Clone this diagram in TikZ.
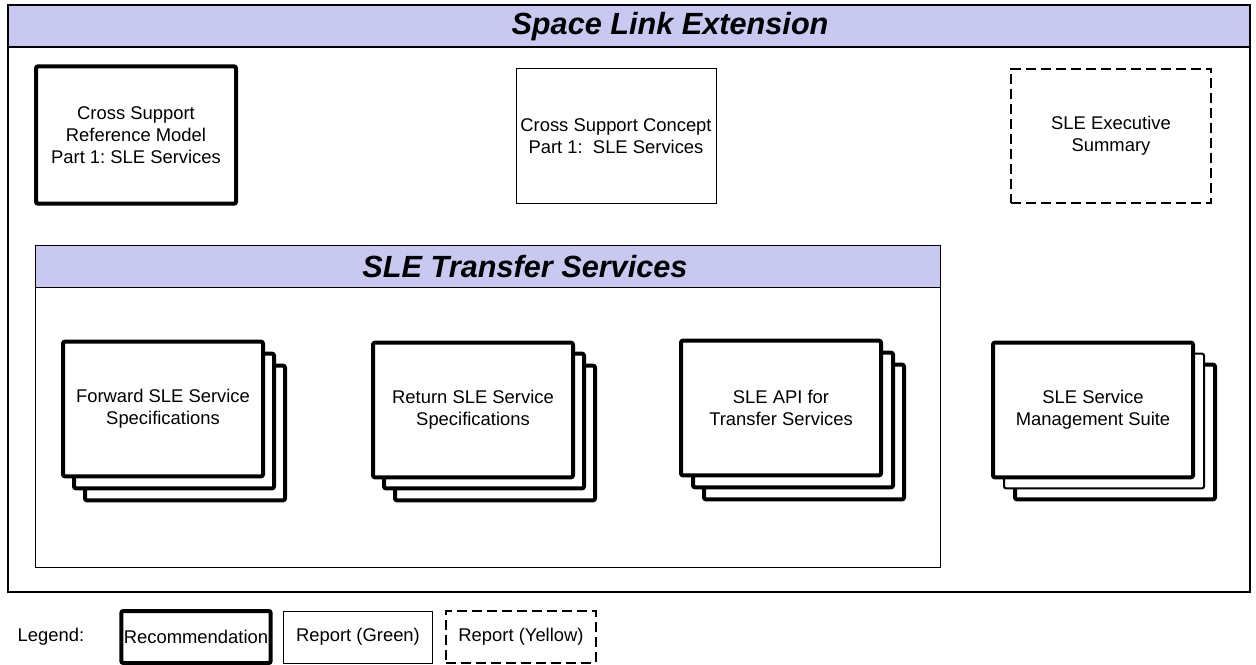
\documentclass[tikz,border=0pt]{standalone}
\usepackage{fontspec}
\setmainfont{Liberation Sans}
\usepackage{tikz}
\frenchspacing

\definecolor{slelavender}{RGB}{200,200,240}
\newcommand{\boxfont}{\fontsize{13.8pt}{16.5pt}\selectfont}
\newcommand{\barfont}{\fontsize{23pt}{27pt}\selectfont\bfseries\itshape}

\tikzset{
  recbox/.style={draw, line width=3pt, rounded corners=1.5pt, fill=white,
    minimum width=150pt, minimum height=101pt, inner sep=0pt,
    align=center, font=\boxfont},
  greenbox/.style={recbox, line width=0.75pt, rounded corners=0pt},
  yellowbox/.style={recbox, line width=1.5pt, rounded corners=0pt,
    dash pattern=on 7.5pt off 3.75pt},
  legendbox/.style={minimum width=112pt, minimum height=39pt},
  bartitle/.style={font=\barfont}
}

\begin{document}
\begin{tikzpicture}[x=0.75pt, y=-0.75pt]
            \useasboundingbox (0,0) rectangle (1256,664);

            % Space Link Extension frame
            \draw[line width=1.1pt] (8,5) rectangle (1250,592);
            \draw[line width=1.1pt, fill=slelavender] (8,5) rectangle (1250,47);
            \node[bartitle] (sle) at (670,27) {Space Link Extension};

            \node[recbox, minimum height=103pt] (csrm) at (136,135) {Cross Support\\Reference Model\\Part 1: SLE Services};
            \node[greenbox] (csc) at (616,136) {Cross Support Concept\\Part 1: \ SLE Services};
            \node[yellowbox] (exec) at (1111,136) {SLE Executive\\Summary};

            % SLE Transfer Services frame
            \draw[line width=0.75pt] (35,245) rectangle (940,567);
            \draw[line width=0.75pt, fill=slelavender] (35,245) rectangle (940,287);
            \node[bartitle] (sts) at (525,267) {SLE Transfer Services};

            \node[recbox] (fwd3) at (185,433) {};
            \node[recbox] (fwd2) at (174,421) {};
            \node[recbox] (fwd) at (163,409) {Forward SLE Service\\Specifications};

            \node[recbox] (ret3) at (495,433) {};
            \node[recbox] (ret2) at (484,421) {};
            \node[recbox] (ret) at (473,410) {Return SLE Service\\Specifications};

            \node[recbox] (api3) at (804,432) {};
            \node[recbox] (api2) at (793,420) {};
            \node[recbox] (api) at (781,408) {SLE API for\\Transfer Services};

            \node[recbox] (mgt3) at (1115,432) {};
            \node[recbox, line width=1.5pt] (mgt2) at (1104,421) {};
            \node[recbox] (mgt) at (1093,410) {SLE Service\\Management Suite};

            % legend
            \node[font=\boxfont] (legend) at (51,637) {Legend:};
            \node[recbox, legendbox] (lrec) at (196,637) {Recommendation};
            \node[greenbox, legendbox] (lgreen) at (358,637) {Report (Green)};
            \node[yellowbox, legendbox] (lyellow) at (521,637) {Report (Yellow)};
        \end{tikzpicture}
\end{document}
